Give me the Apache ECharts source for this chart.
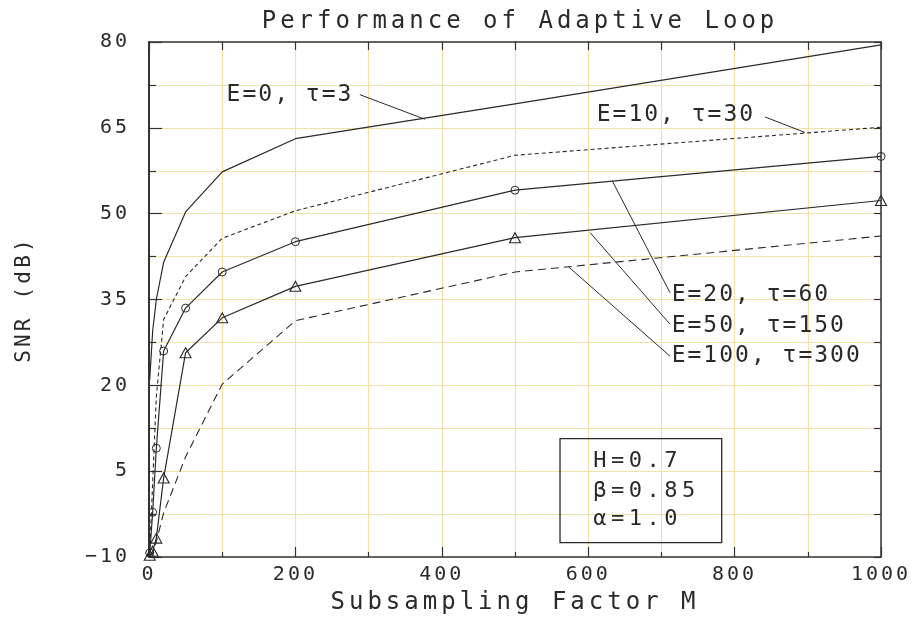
<!DOCTYPE html>
<html><head><meta charset="utf-8">
<script src="https://cdn.jsdelivr.net/npm/echarts@6/dist/echarts.min.js"></script>
<style>html,body{margin:0;padding:0;background:#fff}#c{width:924px;height:620px}</style>
</head><body><div id="c"></div>
<script>
// ---------------- data ----------------
const xM = [1, 5, 10, 20, 50, 100, 200, 500, 1000];
const snrE0 = [21, 29.5, 35, 41.5, 50.3, 57.3, 63.1, 69.2, 79.5];
const snrE10 = [-9, 3, 18, 31.5, 39, 45.7, 50.5, 60.2, 65.1];
const snrE20 = [-9.3, -2.2, 9, 26, 33.5, 39.8, 45.1, 54.1, 60];
const snrE50 = [-9.7, -9, -6.7, 3.8, 25.7, 31.8, 37.3, 45.8, 52.3];
const snrE100 = [-10, -9.3, -7.3, -2.3, 7.5, 20.2, 31.3, 39.8, 46.1];
const curveLabels = ['E=0, \u03c4=3', 'E=10, \u03c4=30', 'E=20, \u03c4=60', 'E=50, \u03c4=150', 'E=100, \u03c4=300'];
const boxLines = ['H=0.7', '\u03b2=0.85', '\u03b1=1.0'];
const titleText = 'Performance of Adaptive Loop';
const xName = 'Subsampling Factor M';
const yName = 'SNR (dB)';

// ---------------- layout (data-space anchors for annotations) ----------------
const labelLayout = [
  { text: [106, 70.8], from: [288, 70.8], to: [377, 66.5] },
  { text: [611.6, 67.3], from: [841.5, 66.9], to: [896, 64.2] },
  { text: [714, 35.8], from: [711.7, 36.2], to: [633, 55.7] },
  { text: [714, 30.4], from: [711.7, 30.7], to: [602.5, 46.7] },
  { text: [714, 25.1], from: [711.7, 25.1], to: [572.8, 40.75] }
];
const boxLayout = { tl: [561.5, 10.7], br: [782.4, -7.5], textX: 607, rows: [6.8, 1.5, -3.35] };

// letter spacing emulation for the stroke-font look
(function () {
  const proto = CanvasRenderingContext2D.prototype;
  const spacing = { 20: 3, 21: 3.2, 22: 4.5, 23: 2, 24: 4 };
  const orig = proto.fillText;
  proto.fillText = function (t, x, y, m) {
    const mm = /(\d+(?:\.\d+)?)px/.exec(this.font);
    const s = mm ? (spacing[Math.round(parseFloat(mm[1]))] || 0) : 0;
    if ('letterSpacing' in this) this.letterSpacing = s + 'px';
    return m === undefined ? orig.call(this, t, x, y) : orig.call(this, t, x, y, m);
  };
})();

const FONT = 'DejaVu Sans Mono';
const INK = '#2a2a2a';
const GRIDC = '#f3e1a8';

const chart = echarts.init(document.getElementById('c'), null, { renderer: 'canvas' });

function mk(name, arr, extra) {
  return Object.assign({
    name: name, type: 'line', xAxisIndex: 0, yAxisIndex: 0,
    data: xM.map((x, i) => [x, arr[i]]),
    showSymbol: false, symbol: 'none',
    lineStyle: { color: INK, width: 1.2 },
    itemStyle: { color: INK },
    silent: true, z: 3
  }, extra || {});
}

const option = {
  animation: false,
  backgroundColor: '#fff',
  title: {
    text: titleText, left: 515, top: 5, textAlign: 'center',
    textStyle: { fontFamily: FONT, fontSize: 24, fontWeight: 'normal', color: INK }
  },
  grid: { left: 149, right: 43, top: 42, bottom: 62, containLabel: false },
  xAxis: [{
    type: 'value', min: 0, max: 1000, interval: 200, position: 'bottom',
    name: xName, nameLocation: 'middle', nameGap: 34,
    nameTextStyle: { fontFamily: FONT, fontSize: 24, color: INK },
    axisLine: { show: true, onZero: false, lineStyle: { color: '#333', width: 1.5 } },
    axisTick: { show: true, inside: true, length: 10, lineStyle: { color: '#333', width: 1.2 } },
    minorTick: { show: true, splitNumber: 2, length: 5, lineStyle: { color: '#333', width: 1.2 } },
    axisLabel: { fontFamily: FONT, fontSize: 20, color: INK, margin: 8, formatter: v => String(v) },
    splitLine: { show: true, lineStyle: { color: GRIDC, width: 1.2 } },
    minorSplitLine: { show: true, lineStyle: { color: GRIDC, width: 1.2 } }
  }, {
    type: 'value', min: 0, max: 1000, interval: 100, position: 'top',
    axisLine: { show: true, onZero: false, lineStyle: { color: '#333', width: 1.5 } },
    axisTick: { show: true, inside: true, length: 8, lineStyle: { color: '#333', width: 1.2 } },
    axisLabel: { show: false }, splitLine: { show: false }
  }],
  yAxis: [{
    type: 'value', min: -10, max: 80, interval: 15, position: 'left',
    name: yName, nameLocation: 'middle', nameGap: 114, nameRotate: 90,
    nameTextStyle: { fontFamily: FONT, fontSize: 21, color: INK },
    axisLine: { show: true, onZero: false, lineStyle: { color: '#333', width: 2 } },
    axisTick: { show: true, inside: true, length: 13, lineStyle: { color: '#333', width: 1.2 } },
    minorTick: { show: true, splitNumber: 2, length: 7, lineStyle: { color: '#333', width: 1.2 } },
    axisLabel: {
      fontFamily: FONT, fontSize: 20, color: INK, margin: 19,
      formatter: v => (v < 0 ? '\u2212' + Math.abs(v) : String(v))
    },
    splitLine: { show: true, lineStyle: { color: GRIDC, width: 1.2 } },
    minorSplitLine: { show: true, lineStyle: { color: GRIDC, width: 1.2 } }
  }, {
    type: 'value', min: -10, max: 80, interval: 7.5, position: 'right',
    axisLine: { show: true, onZero: false, lineStyle: { color: '#333', width: 1.5 } },
    axisTick: { show: true, inside: true, length: 7, lineStyle: { color: '#333', width: 1.2 } },
    axisLabel: { show: false }, splitLine: { show: false }
  }],
  series: [
    mk(curveLabels[0], snrE0),
    mk(curveLabels[1], snrE10, { lineStyle: { color: INK, width: 1.1, type: [4, 3] } }),
    mk(curveLabels[2], snrE20, {
      showSymbol: true, symbol: 'circle', symbolSize: 8,
      itemStyle: { color: 'rgba(255,255,255,0)', borderColor: INK, borderWidth: 1 }
    }),
    mk(curveLabels[3], snrE50, {
      showSymbol: true, symbol: 'triangle', symbolSize: [11, 10],
      itemStyle: { color: 'rgba(255,255,255,0)', borderColor: INK, borderWidth: 1.1 }
    }),
    mk(curveLabels[4], snrE100, { lineStyle: { color: INK, width: 1.1, type: [8, 5] } })
  ]
};
chart.setOption(option);

const P = p => chart.convertToPixel({ seriesIndex: 0 }, p);
const g = [];
labelLayout.forEach((L, i) => {
  const a = P(L.from), b = P(L.to), t = P(L.text);
  g.push({ type: 'line', z: 10, silent: true, shape: { x1: a[0], y1: a[1], x2: b[0], y2: b[1] },
    style: { stroke: INK, lineWidth: 1 } });
  g.push({ type: 'text', z: 10, silent: true, x: t[0], y: t[1],
    style: { text: curveLabels[i], fill: INK, font: '23px "' + FONT + '"', align: 'left', verticalAlign: 'middle' } });
});
const tl = P(boxLayout.tl), br = P(boxLayout.br);
g.push({ type: 'rect', z: 10, silent: true, shape: { x: tl[0], y: tl[1], width: br[0] - tl[0], height: br[1] - tl[1] },
  style: { fill: 'none', stroke: INK, lineWidth: 1.3 } });
boxLines.forEach((s, i) => {
  const p = P([boxLayout.textX, boxLayout.rows[i]]);
  g.push({ type: 'text', z: 10, silent: true, x: p[0], y: p[1],
    style: { text: s, fill: INK, font: '22px "' + FONT + '"', align: 'left', verticalAlign: 'middle' } });
});
chart.setOption({ graphic: g });
</script>
</body></html>
